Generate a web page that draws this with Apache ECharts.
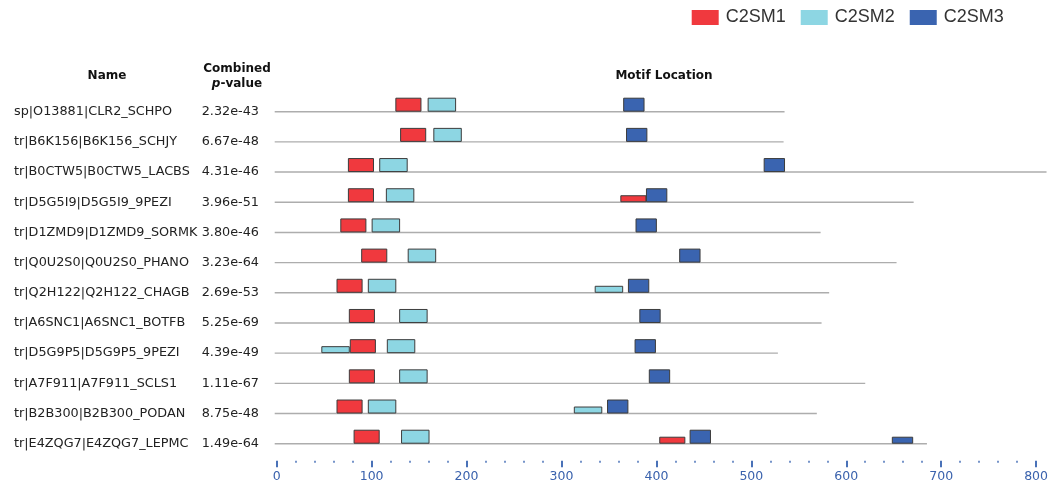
<!DOCTYPE html>
<html>
<head>
<meta charset="utf-8">
<script src="https://cdn.jsdelivr.net/npm/echarts@6/dist/echarts.min.js"></script>
<style>
html,body{margin:0;padding:0;background:#fff;}
#chart{width:1055px;height:486px;}
</style>
</head>
<body>
<div id="chart"></div>
<script>
// ---- data ----
var names = [
  'sp|O13881|CLR2_SCHPO','tr|B6K156|B6K156_SCHJY','tr|B0CTW5|B0CTW5_LACBS','tr|D5G5I9|D5G5I9_9PEZI',
  'tr|D1ZMD9|D1ZMD9_SORMK','tr|Q0U2S0|Q0U2S0_PHANO','tr|Q2H122|Q2H122_CHAGB','tr|A6SNC1|A6SNC1_BOTFB',
  'tr|D5G9P5|D5G9P5_9PEZI','tr|A7F911|A7F911_SCLS1','tr|B2B300|B2B300_PODAN','tr|E4ZQG7|E4ZQG7_LEPMC'
];
var pvalues = ['2.32e-43','6.67e-48','4.31e-46','3.96e-51','3.80e-46','3.23e-64','2.69e-53','5.25e-69',
  '4.39e-49','1.11e-67','8.75e-48','1.49e-64'];
var seqLengths = [535, 534, 811, 671, 573, 653, 582, 574, 528, 620, 569, 685];
var motifNames = ['C2SM1', 'C2SM2', 'C2SM3'];
var motifWidths = [27.5, 30, 22.5];
// hits per motif: [start, row, strong(1)/weak(0)]
var hitsC2SM1 = [[125,0,1],[130,1,1],[75,2,1],[75,3,1],[362,3,0],[67,4,1],[89,5,1],[63,6,1],[76,7,1],[77,8,1],[76,9,1],[63,10,1],[81,11,1],[403,11,0]];
var hitsC2SM2 = [[159,0,1],[165,1,1],[108,2,1],[115,3,1],[100,4,1],[138,5,1],[96,6,1],[335,6,0],[129,7,1],[47,8,0],[116,8,1],[129,9,1],[96,10,1],[313,10,0],[131,11,1]];
var hitsC2SM3 = [[365,0,1],[368,1,1],[513,2,1],[389,3,1],[378,4,1],[424,5,1],[370,6,1],[382,7,1],[377,8,1],[392,9,1],[348,10,1],[435,11,1],[648,11,0]];
var xTicks = {min: 0, max: 800, interval: 100};
var colors = ['#f0393e', '#8dd6e3', '#3a64b0'];

// ---- chart ----
var chart = echarts.init(document.getElementById('chart'));
function hitRenderer(widthIdx) {
  return function (params, api) {
    var s = api.value(0), row = api.value(1), strong = api.value(2);
    var p0 = api.coord([s, row]);
    var p1 = api.coord([s + motifWidths[widthIdx], row]);
    var h = strong ? 14 : 7;
    return {
      type: 'rect',
      shape: {x: p0[0] + 0.5, y: p0[1] - h + 0.5, width: p1[0] - p0[0] - 1, height: h - 1},
      style: {fill: colors[widthIdx], stroke: '#3c3c3c', lineWidth: 1}
    };
  };
}
var lineData = seqLengths.map(function (l, i) { return [l, i]; });
var hitSets = [hitsC2SM1, hitsC2SM2, hitsC2SM3];
var series = [{
  type: 'custom', name: 'seq', silent: true, clip: false,
  data: lineData,
  renderItem: function (params, api) {
    var row = api.value(1);
    var a = api.coord([0, row]), b = api.coord([api.value(0), row]);
    return {type: 'line', shape: {x1: a[0] - 2, y1: a[1], x2: b[0], y2: b[1]},
      style: {stroke: '#adadad', lineWidth: 1.4}};
  }
}];
motifNames.forEach(function (n, k) {
  series.push({type: 'custom', name: n, clip: false, data: hitSets[k],
    itemStyle: {color: colors[k]}, renderItem: hitRenderer(k)});
});

var option = {
  backgroundColor: '#fff',
  animation: false,
  color: colors,
  legend: {
    data: motifNames, left: 691.7, top: 8.5, padding: 0, icon: 'rect', itemWidth: 27, itemHeight: 15, itemGap: 15,
    itemStyle: {borderWidth: 0},
    textStyle: {fontFamily: 'Liberation Sans', fontSize: 18, color: '#333', padding: [0, 0, 0, 2]}
  },
  grid: {left: 276.7, right: 18.9, top: 96.6, bottom: 486 - 458.8},
  xAxis: {
    type: 'value', min: xTicks.min, max: xTicks.max, interval: xTicks.interval, offset: 2,
    axisLine: {show: false},
    axisTick: {show: true, length: 6.5, lineStyle: {color: '#4a72b8', width: 2}},
    minorTick: {show: true, splitNumber: 5, length: 2, lineStyle: {color: '#4a72b8', width: 1.5}},
    splitLine: {show: false},
    axisLabel: {margin: 9, color: '#3a62ad', fontFamily: 'DejaVu Sans', fontSize: 12.5}
  },
  yAxis: [{
    type: 'category', data: names, inverse: true, position: 'left',
    axisLine: {show: false}, axisTick: {show: false},
    axisLabel: {interval: 0, align: 'left', margin: 262.7, color: '#222', fontFamily: 'DejaVu Sans', fontSize: 12.8}
  }, {
    type: 'category', data: pvalues, inverse: true, position: 'left',
    axisLine: {show: false}, axisTick: {show: false},
    axisLabel: {interval: 0, align: 'left', margin: 75, color: '#222', fontFamily: 'DejaVu Sans', fontSize: 12.8}
  }],
  graphic: [
    {type: 'text', x: 107, y: 76, style: {text: 'Name', align: 'center', verticalAlign: 'middle',
      font: 'bold 12px "DejaVu Sans"', fill: '#111'}},
    {type: 'text', x: 237, y: 69.3, style: {text: 'Combined', align: 'center', verticalAlign: 'middle',
      font: 'bold 12px "DejaVu Sans"', fill: '#111'}},
    {type: 'text', x: 237, y: 84.3, style: {text: '{i|p}{b|-value}', align: 'center', verticalAlign: 'middle',
      rich: {i: {fontFamily: 'DejaVu Sans', fontWeight: 'bold', fontStyle: 'italic', fontSize: 12, fill: '#111'},
             b: {fontFamily: 'DejaVu Sans', fontWeight: 'bold', fontSize: 12, fill: '#111'}}}},
    {type: 'text', x: 664, y: 75.7, style: {text: 'Motif Location', align: 'center', verticalAlign: 'middle',
      font: 'bold 12px "DejaVu Sans"', fill: '#111'}}
  ],
  series: series
};
chart.setOption(option);
</script>
</body>
</html>
